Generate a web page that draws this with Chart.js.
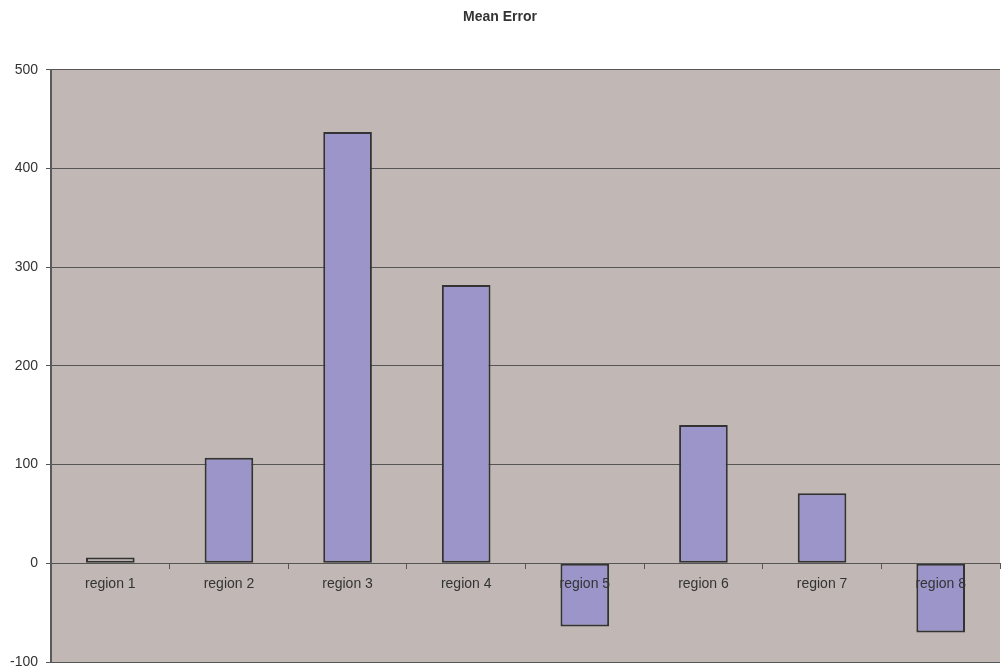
<!DOCTYPE html>
<html>
<head>
<meta charset="utf-8">
<script src="https://cdn.jsdelivr.net/npm/chart.js@4/dist/chart.umd.min.js"></script>
<style>
  html, body { margin: 0; padding: 0; background: #ffffff; }
  #wrap { width: 1001px; height: 670px; }
</style>
</head>
<body>
<div id="wrap"><canvas id="c" width="1001" height="670"></canvas></div>
<script>
// Mean error per region
const regions = ['region 1', 'region 2', 'region 3', 'region 4', 'region 5', 'region 6', 'region 7', 'region 8'];
const meanError = [6, 107, 437, 282, -64, 140, 71, -70];
const yTicks = [-100, 0, 100, 200, 300, 400, 500];

const plotBg = '#c1b8b5';
const barFill = '#9b95c9';
const textColor = '#333333';

// Fill the plotting area behind the bars
const plotArea = {
  id: 'plotArea',
  beforeDraw(chart) {
    const { ctx, chartArea: a } = chart;
    ctx.save();
    ctx.fillStyle = plotBg;
    ctx.fillRect(a.left, a.top, a.right - a.left, a.bottom - a.top);
    ctx.restore();
  }
};

new Chart(document.getElementById('c'), {
  type: 'bar',
  data: {
    labels: regions,
    datasets: [{
      label: 'Mean Error',
      data: meanError,
      backgroundColor: meanError.map((v, i) => i === 0 ? plotBg : barFill),
      borderColor: '#333333',
      borderWidth: 2,
      borderSkipped: false,
      categoryPercentage: 1,
      barPercentage: 0.41
    }]
  },
  options: {
    responsive: false,
    animation: false,
    layout: { padding: { left: 0, right: 1, top: 0, bottom: 8 } },
    plugins: {
      legend: { display: false },
      tooltip: { enabled: false },
      title: {
        display: true,
        text: 'Mean Error',
        color: textColor,
        font: { family: 'Liberation Sans', size: 14, weight: 'bold' },
        padding: { top: 9, bottom: 44 }
      }
    },
    scales: {
      x: {
        position: { y: 0 },
        afterFit(scale) { scale.paddingTop = 0; scale.paddingBottom = 0; },
        grid: {
          offset: true,
          drawOnChartArea: false,
          drawTicks: true,
          tickLength: 5,
          color: '#555555'
        },
        border: { display: true, color: '#555555', width: 1, z: 1 },
        ticks: {
          z: 1,
          color: textColor,
          font: { family: 'Liberation Sans', size: 14 },
          padding: 7,
          maxRotation: 0,
          autoSkip: false
        }
      },
      y: {
        min: -100,
        max: 500,
        afterBuildTicks(scale) { scale.ticks = yTicks.map(v => ({ value: v })); },
        afterFit(scale) {
          scale.width = 51;
          scale.paddingTop = 0;
          scale.paddingBottom = 0;
        },
        grid: {
          color: '#555555',
          lineWidth: 1,
          tickLength: 5,
          drawTicks: true
        },
        border: { display: true, color: '#5a5a5a', width: 2 },
        ticks: {
          color: textColor,
          font: { family: 'Liberation Sans', size: 14 },
          padding: 8
        }
      }
    }
  },
  plugins: [plotArea]
});
</script>
</body>
</html>
